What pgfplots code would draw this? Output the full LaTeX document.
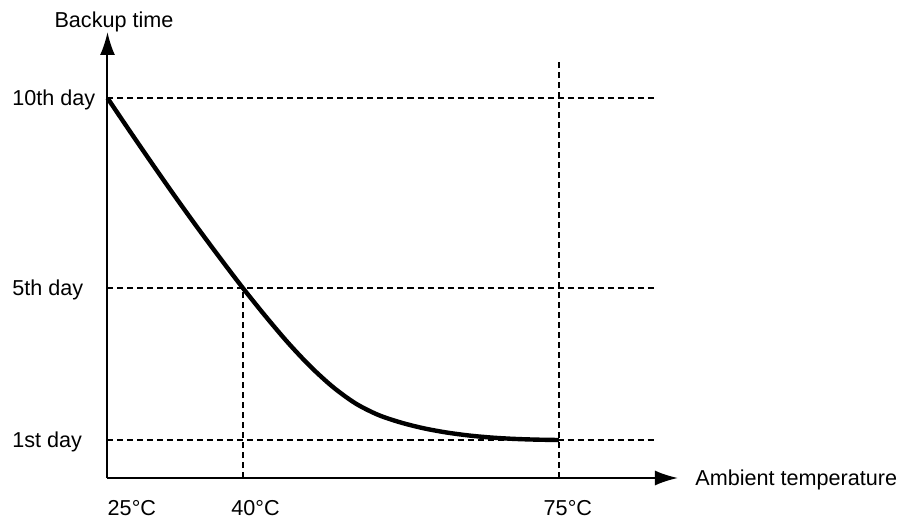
\documentclass[border=0pt]{standalone}
\usepackage{fontspec}
\setmainfont{Liberation Sans}
\usepackage{pgfplots}
\pgfplotsset{compat=1.18}
\usetikzlibrary{arrows.meta}

% 1 px of the reference = 0.5pt
\begin{document}
\begin{tikzpicture}[font=\fontsize{10.8}{13}\selectfont]
\path[use as bounding box] (-53.75pt,-21.5pt) rectangle (402.25pt,239pt);
\begin{axis}[
  anchor=south west, at={(0,0)},
  scale only axis,
  width=285.25pt, height=223pt,
  xmin=25, xmax=88.2, ymin=0, ymax=11.74,
  axis lines*=left,
  axis line style={line width=1pt, -{Latex[length=11.5pt,width=7.5pt]}},
  clip=false,
  major tick length=0pt,
  xtick={27.7,41.4,76},
  xticklabels={25°C,40°C,75°C},
  xticklabel style={anchor=north, inner sep=0pt, yshift=-11pt},
  ytick={1,5,10},
  yticklabels={1st day,5th day,10th day},
  yticklabel style={anchor=base west, inner sep=0pt, xshift=-47.75pt, yshift=-3.85pt},
  xlabel={Ambient temperature},
  ylabel={Backup time},
  every axis x label/.style={at={(rel axis cs:1,0)}, anchor=base west, inner sep=0pt, xshift=8.5pt, yshift=-3.85pt},
  every axis y label/.style={at={(rel axis cs:0,1)}, anchor=base, inner sep=0pt, xshift=3.25pt, yshift=2.25pt},
  guide/.style={line width=0.7pt, dash pattern=on 3pt off 2pt, black},
]
% guide lines
\addplot[guide] coordinates {(25,10) (85.6,10)};
\addplot[guide] coordinates {(25,5) (85.6,5)};
\addplot[guide] coordinates {(25,1) (85.6,1)};
\addplot[guide] coordinates {(40,0) (40,5)};
\addplot[guide] coordinates {(75,0) (75,11.0)};
% backup time curve
\addplot[black, line width=2.2pt, smooth, line join=round] coordinates {
  (25,10) (27.5,9.12) (30,8.255) (32.5,7.405) (35,6.58) (37.5,5.78)
  (40,5.0) (42.5,4.26) (45,3.56) (47.5,2.93) (50,2.39) (52.5,1.96)
  (55,1.66) (57.5,1.46) (60,1.31) (62.5,1.20) (65,1.12) (67.5,1.065)
  (70,1.03) (72.5,1.01) (75,1.0)
};
\end{axis}
\end{tikzpicture}
\end{document}
